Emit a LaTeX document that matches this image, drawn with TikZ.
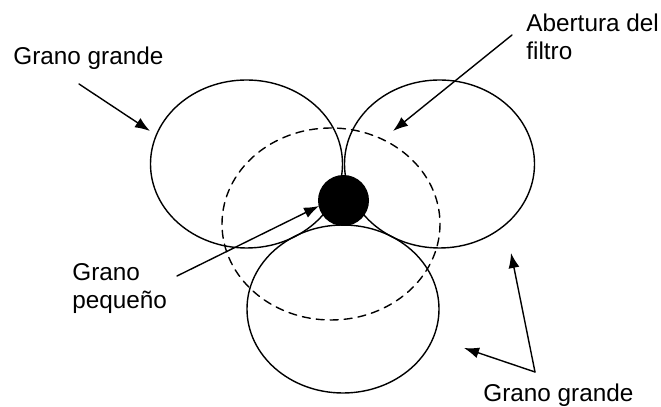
\documentclass[tikz,border=0pt]{standalone}
\usepackage{fontspec}
\setmainfont{Liberation Sans}
\usetikzlibrary{arrows.meta}

\begin{document}
\begin{tikzpicture}[line cap=round,line join=round,x=0.5bp,y=-0.5bp,
    grano/.style={line width=0.7bp},
    flecha/.style={line width=0.7bp,-{Latex[length=7.5bp,width=5.5bp]}},
    rotulo/.style={inner sep=0pt,anchor=base west,font=\fontsize{12.2}{14.5}\selectfont,align=left}]
    \useasboundingbox (0,0) rectangle (661,407);
    % granos grandes
    \draw [grano] (246.5,164) ellipse [x radius=96,y radius=84];
    \draw [grano] (439.5,164) ellipse [x radius=95,y radius=84];
    \draw [grano] (343,309) ellipse [x radius=96,y radius=84];
    % abertura del filtro
    \draw [grano,dash pattern=on 4bp off 3bp] (331,224) ellipse [x radius=109,y radius=96];
    % grano pequeno
    \fill (343.5,200.5) circle [radius=25.5];
    % rotulos (base = ultima linea)
    \node [rotulo] (gg1) at (13,65) {Grano grande};
    \node [rotulo] (abe) at (526,60) {Abertura del\\filtro};
    \node [rotulo] (gp) at (72,309) {Grano\\peque\~no};
    \node [rotulo] (gg2) at (483,402) {Grano grande};
    \coordinate (gg1a) at (79,84);
    \coordinate (gg1b) at (150,131);
    \coordinate (abea) at (512,35);
    \coordinate (abeb) at (393,131);
    \coordinate (gpa) at (177,276);
    \coordinate (gpb) at (319,206);
    \coordinate (gg2a) at (535,372);
    \coordinate (gg2b) at (511,253);
    \coordinate (gg2c) at (464,348);
    % flechas
    \draw [flecha] (gg1a) -- (gg1b);
    \draw [flecha] (abea) -- (abeb);
    \draw [flecha] (gpa) -- (gpb);
    \draw [flecha] (gg2a) -- (gg2b);
    \draw [flecha] (gg2a) -- (gg2c);
\end{tikzpicture}
\end{document}
